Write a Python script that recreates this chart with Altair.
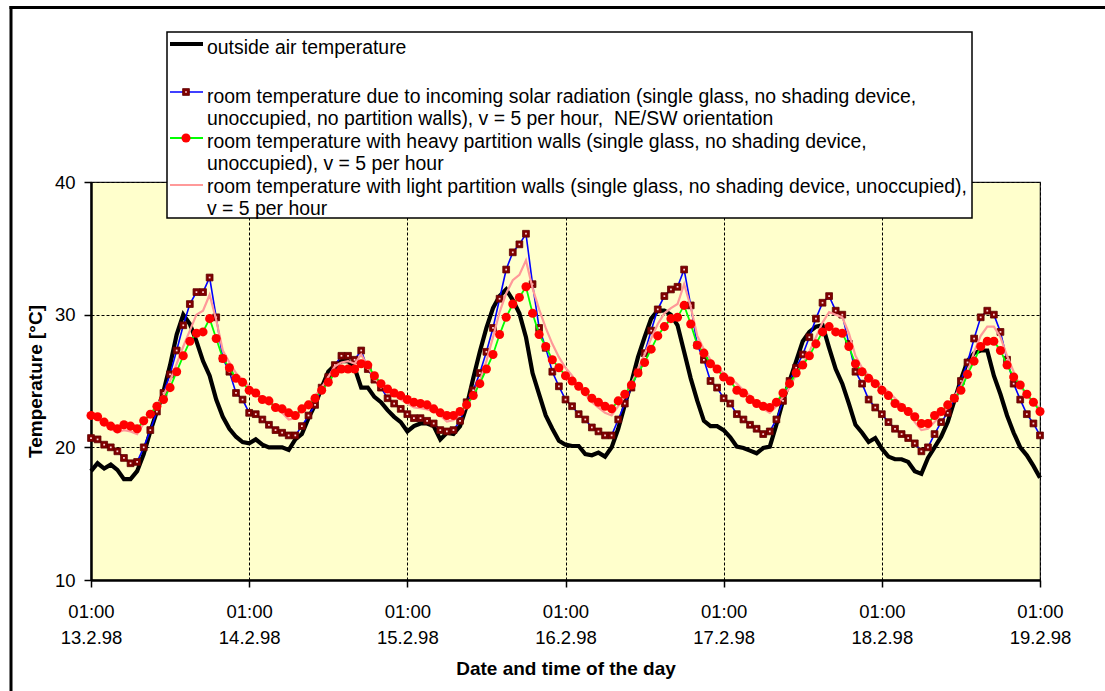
import altair as alt
import pandas as pd

# ---------------- data (hourly, 01:00 13.2.98 -> 01:00 19.2.98) ----------------
hours = list(range(145))

outside = [
    18.2, 18.8, 18.4, 18.7, 18.3, 17.6, 17.6, 18.2, 19.5, 21.2, 22.7, 24.2, 26.2, 28.5, 30.0, 29.3, 28.0, 26.5, 25.4, 23.6, 22.3, 21.4, 20.8, 20.4,
    20.3, 20.6, 20.2, 20.0, 20.0, 20.0, 19.8, 20.6, 21.0, 22.2, 23.2, 24.5, 25.7, 26.2, 26.5, 26.5, 26.0, 24.5, 24.5, 23.8, 23.4, 22.8, 22.3, 21.9,
    21.2, 21.6, 21.8, 21.8, 21.6, 20.6, 21.1, 21.0, 21.6, 23.1, 25.2, 27.2, 29.0, 30.5, 31.4, 31.9, 31.1, 30.1, 28.3, 25.6, 24.0, 22.4, 21.4, 20.5,
    20.2, 20.1, 20.1, 19.5, 19.4, 19.6, 19.3, 20.0, 21.4, 23.2, 24.9, 26.8, 28.3, 29.7, 30.3, 30.3, 30.0, 29.2, 27.2, 25.2, 23.5, 22.0, 21.6, 21.6,
    21.3, 20.75, 20.05, 19.95, 19.75, 19.55, 19.95, 20.05, 21.7, 23.5, 25.0, 26.5, 28.0, 28.7, 29.1, 29.2, 27.5, 25.9, 24.8, 23.3, 21.7, 21.1, 20.4, 20.7,
    19.9, 19.3, 19.1, 19.1, 18.9, 18.2, 18.0, 19.2, 20.0, 20.8, 21.9, 23.5, 25.1, 26.5, 27.1, 27.3, 27.3, 25.4, 24.0, 22.4, 21.1, 20.0, 19.4, 18.6,
    17.7,
]

solar = [
    20.7, 20.6, 20.2, 20.0, 19.7, 19.2, 18.8, 18.9, 20.0, 21.3, 22.7, 24.1, 25.5, 27.3, 29.2, 30.8, 31.7, 31.7, 32.8, 29.8, 26.7, 25.7, 24.1, 23.6,
    22.6, 22.5, 22.1, 21.7, 21.3, 21.1, 20.9, 20.9, 21.6, 22.4, 23.2, 24.5, 25.3, 26.2, 26.9, 26.9, 26.6, 27.3, 25.9, 25.1, 24.5, 23.7, 23.3, 22.9,
    22.5, 22.2, 22.2, 22.0, 21.8, 21.3, 21.2, 21.3, 22.0, 23.4, 24.3, 25.6, 27.2, 29.0, 31.2, 33.4, 34.7, 35.3, 36.1, 32.3, 29.0, 27.5, 25.7, 24.6,
    23.6, 23.1, 22.5, 22.1, 21.5, 21.2, 20.9, 20.9, 22.1, 23.3, 24.5, 25.7, 27.1, 28.8, 30.4, 31.4, 31.9, 32.1, 33.4, 30.7, 27.7, 26.6, 25.0, 24.5,
    23.7, 23.3, 22.5, 22.1, 21.7, 21.4, 21.0, 21.2, 22.1, 23.5, 25.0, 26.0, 27.0, 28.3, 29.7, 30.9, 31.4, 30.3, 30.0, 27.8, 25.7, 24.8, 23.6, 23.0,
    22.5, 21.9, 21.4, 21.0, 20.7, 20.3, 19.7, 20.0, 21.0, 21.9, 22.6, 23.7, 25.0, 26.4, 28.2, 29.8, 30.3, 30.0, 28.7, 26.6, 24.8, 23.6, 22.5, 21.8,
    20.9,
]

heavy = [
    22.4, 22.3, 21.9, 21.6, 21.4, 21.7, 21.6, 21.4, 22.0, 22.5, 23.1, 23.6, 24.5, 25.7, 26.9, 28.0, 28.6, 28.7, 29.7, 28.2, 26.7, 26.0, 25.2, 24.9,
    24.3, 24.1, 23.6, 23.5, 23.0, 22.9, 22.6, 22.4, 22.9, 23.2, 23.7, 24.3, 24.9, 25.6, 25.9, 25.9, 25.9, 26.3, 26.2, 25.4, 24.8, 24.4, 24.1, 23.9,
    23.6, 23.4, 23.3, 23.2, 22.9, 22.6, 22.4, 22.4, 22.7, 23.2, 23.9, 24.8, 25.9, 27.0, 28.5, 29.8, 30.8, 31.3, 32.1, 30.1, 28.5, 27.6, 26.6, 26.0,
    25.4, 25.0, 24.6, 24.2, 23.7, 23.4, 23.1, 22.9, 23.5, 24.0, 24.7, 25.6, 26.4, 27.4, 28.4, 29.1, 29.7, 29.8, 30.7, 29.3, 27.7, 27.1, 26.3, 25.9,
    25.3, 25.0, 24.3, 24.1, 23.6, 23.3, 23.1, 23.0, 23.4, 24.1, 24.8, 25.6, 26.2, 26.9, 27.8, 28.7, 29.1, 28.7, 28.6, 27.6, 26.3, 25.7, 25.2, 24.8,
    24.3, 23.9, 23.3, 23.0, 22.7, 22.3, 21.8, 21.8, 22.4, 22.7, 23.2, 23.7, 24.3, 25.5, 26.5, 27.6, 28.0, 28.0, 27.3, 26.2, 25.3, 24.7, 24.0, 23.4,
    22.7,
]

light = [
    22.3, 22.1, 21.8, 21.4, 21.1, 21.3, 21.2, 21.0, 21.8, 22.5, 23.2, 23.9, 25.0, 26.3, 27.6, 28.8, 30.0, 30.3, 31.5, 29.6, 27.3, 26.4, 25.6, 25.1,
    24.6, 24.2, 23.7, 23.4, 23.0, 22.6, 22.1, 22.2, 22.8, 23.3, 23.9, 24.5, 25.3, 26.1, 26.4, 26.5, 26.3, 27.0, 26.1, 25.2, 24.7, 24.3, 23.9, 23.6,
    23.3, 23.0, 22.95, 22.85, 22.7, 22.4, 21.95, 22.05, 22.45, 23.1, 23.9, 25.0, 26.5, 28.3, 30.2, 31.6, 32.6, 33.0, 34.1, 32.0, 30.4, 29.0, 27.8, 26.8,
    26.0, 25.4, 24.6, 24.0, 23.4, 23.0, 22.6, 22.4, 23.1, 23.9, 24.8, 25.9, 27.0, 28.2, 29.3, 30.1, 30.5, 30.8, 32.3, 30.6, 28.4, 27.4, 26.6, 26.0,
    25.6, 25.2, 24.8, 24.3, 23.9, 23.4, 22.9, 22.6, 23.1, 23.8, 24.5, 25.5, 26.3, 27.2, 28.3, 29.4, 30.2, 30.0, 29.8, 28.6, 26.9, 26.0, 25.4, 25.0,
    24.6, 24.2, 23.7, 23.2, 22.7, 21.9, 21.3, 21.4, 21.9, 22.5, 23.0, 23.8, 24.6, 25.6, 27.2, 28.4, 29.1, 29.1, 28.3, 26.9, 25.7, 24.6, 23.9, 23.4,
    22.9,
]

tick_hours = [0, 24, 48, 72, 96, 120, 144]
tick_time = "01:00"
tick_dates = ["13.2.98", "14.2.98", "15.2.98", "16.2.98", "17.2.98", "18.2.98", "19.2.98"]
y_ticks = [10, 20, 30, 40]

x_title = "Date and time of the day"
y_title = "Temperature [°C]"

legend_outside = ["outside air temperature"]
legend_solar = [
    "room temperature due to incoming solar radiation (single glass, no shading device,",
    "unoccupied, no partition walls), v = 5 per hour, \u00a0NE/SW orientation",
]
legend_heavy = [
    "room temperature with heavy partition walls (single glass, no shading device,",
    "unoccupied), v = 5 per hour",
]
legend_light = [
    "room temperature with light partition walls (single glass, no shading device, unoccupied),",
    "v = 5 per hour",
]

# ---------------- chart ----------------
FONT = "Liberation Sans"
W, H = 949, 398

df = pd.DataFrame({"hour": hours, "outside": outside, "solar": solar,
                   "heavy": heavy, "light": light})
one = pd.DataFrame({"k": [0]})

date_arr = "[" + ",".join("'%s'" % d for d in tick_dates) + "]"
x_axis = alt.Axis(
    values=tick_hours,
    labelExpr="['%s', %s[round(datum.value/24)]]" % (tick_time, date_arr),
    title=x_title, titleFont=FONT, titleFontSize=19, titleFontWeight="bold",
    titleColor="black", titleY=88, titleBaseline="middle",
    labelFont=FONT, labelFontSize=18.5, labelColor="black",
    labelLineHeight=26, labelPadding=15, labelBaseline="top", labelFlush=False,
    labelOverlap=False,
    grid=True, gridColor="black", gridDash=[3, 2], gridWidth=1, gridOpacity=1,
    ticks=True, tickColor="black", tickSize=7, tickWidth=1.5,
    domain=True, domainColor="black", domainWidth=2.5,
)
y_axis = alt.Axis(
    values=y_ticks, title=y_title, titleFont=FONT, titleFontSize=19,
    titleFontWeight="bold", titleColor="black", titleAngle=-90,
    titleX=-56, titleY=H / 2, titleAlign="center", titleBaseline="middle",
    labelFont=FONT, labelFontSize=18.5, labelColor="black", labelPadding=9,
    labelFlush=False,
    grid=True, gridColor="black", gridDash=[3, 2], gridWidth=1, gridOpacity=1,
    ticks=True, tickColor="black", tickSize=7, tickWidth=1.5,
    domain=True, domainColor="black", domainWidth=2.5,
)

xs = alt.Scale(domain=[0, 144], nice=False, zero=False)
ys = alt.Scale(domain=[10, 40], nice=False, zero=False)


def X():
    return alt.X("hour:Q", scale=xs, axis=x_axis)


def Y(field):
    return alt.Y(field + ":Q", scale=ys, axis=y_axis)


base = alt.Chart(df)

outside_line = base.mark_line(color="black", strokeWidth=4.2).encode(x=X(), y=Y("outside"))
solar_line = base.mark_line(color="#0000FF", strokeWidth=1.6).encode(x=X(), y=Y("solar"))
solar_pts = base.mark_square(size=46, color="#800000", opacity=1,
                             stroke="#600000", strokeWidth=0.8).encode(x=X(), y=Y("solar"))
solar_dot = base.mark_square(size=3, color="#FFD8D8", opacity=1).encode(x=X(), y=Y("solar"))
light_line = base.mark_line(color="#FF9999", strokeWidth=2.2).encode(x=X(), y=Y("light"))
heavy_line = base.mark_line(color="#00FF00", strokeWidth=1.8).encode(x=X(), y=Y("heavy"))
heavy_pts = base.mark_circle(size=82, color="#FF0000", opacity=1).encode(x=X(), y=Y("heavy"))

# ---------------- legend box (drawn in pixel space) ----------------
ob = alt.Chart(one)
leg_box = ob.mark_rect(fill="white", stroke="black", strokeWidth=1.5).encode(
    x=alt.value(76), x2=alt.value(881), y=alt.value(-150), y2=alt.value(36))
leg_l1 = ob.mark_rule(color="black", strokeWidth=4.2).encode(
    x=alt.value(79), x2=alt.value(112), y=alt.value(-138))
leg_l2 = ob.mark_rule(color="#0000FF", strokeWidth=1.6).encode(
    x=alt.value(79), x2=alt.value(112), y=alt.value(-90))
leg_p2 = ob.mark_square(size=46, color="#800000", opacity=1, stroke="#600000",
                        strokeWidth=0.8).encode(x=alt.value(95), y=alt.value(-90))
leg_d2 = ob.mark_square(size=3, color="#FFD8D8", opacity=1).encode(
    x=alt.value(95), y=alt.value(-90))
leg_l3 = ob.mark_rule(color="#00FF00", strokeWidth=1.8).encode(
    x=alt.value(79), x2=alt.value(112), y=alt.value(-44))
leg_p3 = ob.mark_circle(size=82, color="#FF0000", opacity=1).encode(
    x=alt.value(95), y=alt.value(-44))
leg_l4 = ob.mark_rule(color="#FF9999", strokeWidth=2.2).encode(
    x=alt.value(79), x2=alt.value(112), y=alt.value(3))


def leg_text(lines, y0, step=21.5):
    layers = []
    for i, t in enumerate(lines):
        layers.append(ob.mark_text(align="left", baseline="middle", font=FONT,
                                   fontSize=19.4, color="black").encode(
            x=alt.value(116), y=alt.value(y0 + i * step), text=alt.value(t)))
    return layers


texts = (leg_text(legend_outside, -134) + leg_text(legend_solar, -85)
         + leg_text(legend_heavy, -40) + leg_text(legend_light, 5))

# outer frame of the figure
frame_left = ob.mark_rule(color="black", strokeWidth=3).encode(
    x=alt.value(-80), y=alt.value(-176), y2=alt.value(520))
frame_top = ob.mark_rule(color="black", strokeWidth=3).encode(
    x=alt.value(-81.5), x2=alt.value(1020), y=alt.value(-174.5))

chart = alt.layer(
    outside_line, solar_line, solar_pts, solar_dot, light_line, heavy_line, heavy_pts,
    leg_box, leg_l1, leg_l2, leg_p2, leg_d2, leg_l3, leg_p3, leg_l4, *texts,
    frame_left, frame_top,
).properties(
    width=W, height=H,
    autosize=alt.AutoSizeParams(type="none"),
    padding={"left": 91, "top": 182, "right": 65, "bottom": 111},
    background="white",
).configure_view(
    fill="#FFFFCC", stroke="#222222", strokeWidth=1.2,
)

chart.save("out.html", embed_options={"renderer": "svg", "actions": False})
